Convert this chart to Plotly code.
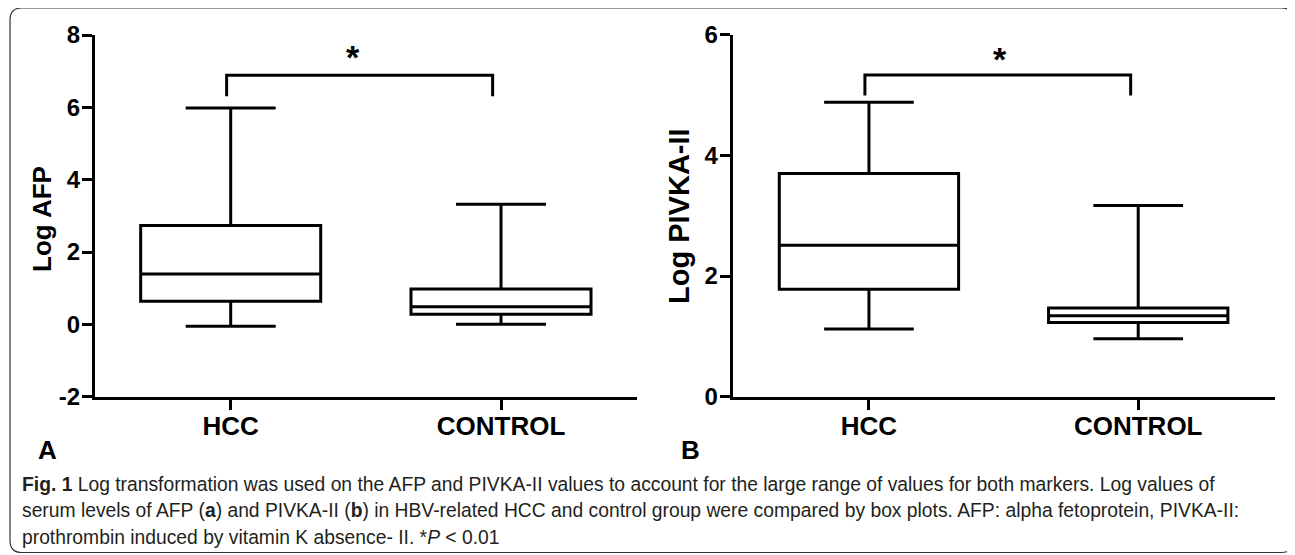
import plotly.graph_objects as go

# The page body has an 8px margin; figure sized so it fits the 1295x555 window exactly.
OFF = 8
W, H = 1295 - OFF, 555 - OFF

categories = ["HCC", "CONTROL"]

# Panel A: Log AFP
afp_lower = [-0.05, 0.0]
afp_q1 = [0.64, 0.28]
afp_median = [1.39, 0.49]
afp_q3 = [2.73, 0.98]
afp_upper = [5.98, 3.32]
afp_ticks = [-2, 0, 2, 4, 6, 8]
afp_tick_labels = ["-2", "0", "2", "4", "6", "8"]

# Panel B: Log PIVKA-II
pivka_lower = [1.12, 0.96]
pivka_q1 = [1.78, 1.23]
pivka_median = [2.51, 1.34]
pivka_q3 = [3.70, 1.47]
pivka_upper = [4.88, 3.17]
pivka_ticks = [0, 2, 4, 6]
pivka_tick_labels = ["0", "2", "4", "6"]

FONT = "Liberation Sans, Arial, sans-serif"


def px_x(p):
    """screen pixel x -> paper fraction"""
    return (p - OFF) / W


def px_y(p):
    """screen pixel y -> paper fraction"""
    return 1 - (p - OFF) / H


fig = go.Figure()

panels = [
    ("x", "y", afp_lower, afp_q1, afp_median, afp_q3, afp_upper),
    ("x2", "y2", pivka_lower, pivka_q1, pivka_median, pivka_q3, pivka_upper),
]
for xa, ya, lo, q1, med, q3, up in panels:
    for i, cat in enumerate(categories):
        fig.add_trace(go.Box(
            x=[i], q1=[q1[i]], median=[med[i]], q3=[q3[i]],
            lowerfence=[lo[i]], upperfence=[up[i]],
            width=0.666, whiskerwidth=0.5,
            line=dict(color="black", width=3), fillcolor="white",
            boxpoints=False, name=cat, showlegend=False,
            xaxis=xa, yaxis=ya, hoverinfo="skip",
        ))

axis_common = dict(
    showline=True, linecolor="black", linewidth=3,
    ticks="outside", ticklen=10, tickwidth=3, tickcolor="black",
    showgrid=False, zeroline=False,
)

xfont = dict(family=FONT, size=26, color="black", weight="bold")
yfont = dict(family=FONT, size=24, color="black", weight="bold")

fig.update_layout(
    width=W, height=H,
    margin=dict(l=0, r=0, t=0, b=0, pad=0, autoexpand=False),
    paper_bgcolor="white", plot_bgcolor="white",
    showlegend=False,
    xaxis=dict(domain=[px_x(95), px_x(636.7)], range=[-0.502, 1.502],
               tickvals=[0, 1], ticktext=categories, anchor="y",
               tickfont=xfont, ticklabelstandoff=-6, **axis_common),
    yaxis=dict(domain=[px_y(396.7), px_y(35)], range=[-2, 8],
               tickvals=afp_ticks, ticktext=afp_tick_labels, anchor="x",
               tickfont=yfont, ticklabelstandoff=-3, **axis_common),
    xaxis2=dict(domain=[px_x(732.7), px_x(1275)], range=[-0.506, 1.508],
                tickvals=[0, 1], ticktext=categories, anchor="y2",
                tickfont=xfont, ticklabelstandoff=-6, **axis_common),
    yaxis2=dict(domain=[px_y(396.7), px_y(34.6)], range=[0, 6],
                tickvals=pivka_ticks, ticktext=pivka_tick_labels, anchor="x2",
                tickfont=yfont, ticklabelstandoff=-3, **axis_common),
)

# significance brackets
brackets = [("x", "y", -0.015, 0.969, 6.89, 6.31, 0.452, 7.40),
            ("x2", "y2", -0.015, 0.972, 5.33, 4.99, 0.486, 5.59)]
for xa, ya, x0, x1, yt, yb, ax, ay in brackets:
    fig.add_shape(type="path", xref=xa, yref=ya,
                  path=f"M {x0} {yb} L {x0} {yt} L {x1} {yt} L {x1} {yb}",
                  line=dict(color="black", width=3))
    fig.add_annotation(x=ax, y=ay, xref=xa, yref=ya, text="*", showarrow=False,
                       font=dict(family=FONT, size=34, color="black", weight="bold"),
                       xanchor="center", yanchor="middle")

# axis titles
for text, cx, cy, fs in [("Log AFP", 42, 219, 26), ("Log PIVKA-II", 679, 216, 29)]:
    fig.add_annotation(x=px_x(cx), y=px_y(cy), xref="paper", yref="paper",
                       text=text, textangle=-90, showarrow=False,
                       font=dict(family=FONT, size=fs, color="black", weight="bold"),
                       xanchor="center", yanchor="middle")

# panel letters
for text, cx in [("A", 47), ("B", 690)]:
    fig.add_annotation(x=px_x(cx), y=px_y(450), xref="paper", yref="paper",
                       text=text, showarrow=False,
                       font=dict(family=FONT, size=26, color="black", weight="bold"),
                       xanchor="center", yanchor="middle")

# caption
caption_lines = [
    "<b>Fig. 1</b> Log transformation was used on the AFP and PIVKA-II values to account for the large range of values for both markers. Log values of",
    "serum levels of AFP (<b>a</b>) and PIVKA-II (<b>b</b>) in HBV-related HCC and control group were compared by box plots. AFP: alpha fetoprotein, PIVKA-II:",
    "prothrombin induced by vitamin K absence- II. *<i>P</i> &lt; 0.01",
]
for k, line in enumerate(caption_lines):
    fig.add_annotation(x=px_x(20), y=px_y(484 + 26.5 * k), xref="paper", yref="paper",
                       text=line, showarrow=False,
                       font=dict(family=FONT, size=19.3, color="#231f20"),
                       xanchor="left", yanchor="middle")

# rounded border
L, T, R, B, r = 10, 8, 1293.5, 552.5, 12
rx, ry = r / W, r / H
xl, xr, yt_, yb_ = px_x(L), px_x(R), px_y(T), px_y(B)
path = (f"M {xl + rx} {yt_} L {xr - rx} {yt_} Q {xr} {yt_} {xr} {yt_ - ry} "
        f"L {xr} {yb_ + ry} Q {xr} {yb_} {xr - rx} {yb_} "
        f"L {xl + rx} {yb_} Q {xl} {yb_} {xl} {yb_ + ry} "
        f"L {xl} {yt_ - ry} Q {xl} {yt_} {xl + rx} {yt_} Z")
fig.add_shape(type="path", xref="paper", yref="paper", path=path,
              line=dict(color="#333333", width=1.2), layer="below")

fig.write_html("out.html")
